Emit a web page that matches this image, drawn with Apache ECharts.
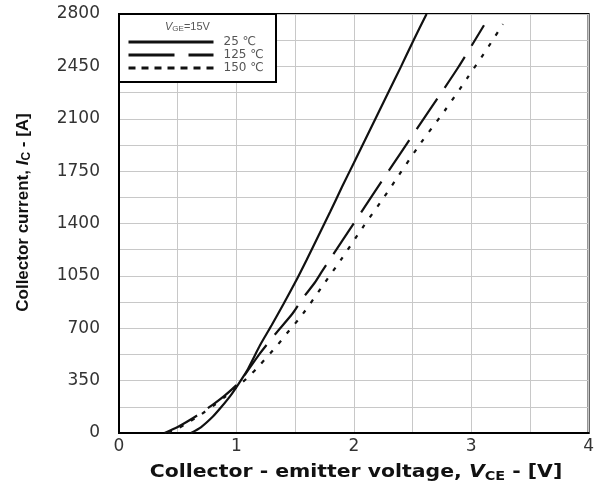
<!DOCTYPE html>
<html>
<head>
<meta charset="utf-8">
<script src="https://cdn.jsdelivr.net/npm/echarts@6/dist/echarts.min.js"></script>
<style>
html,body{margin:0;padding:0;background:#fff;}
#c{width:597px;height:488px;}
</style>
</head>
<body>
<div id="c"></div>
<script>
// Output characteristics (VGE = 15 V)
const xTicks = [0, 1, 2, 3, 4];
const yTicks = [0, 350, 700, 1050, 1400, 1750, 2100, 2450, 2800];
const seriesNames = ['25 \u2103', '125 \u2103', '150 \u2103'];

const v25 = [0.613,0.7,0.8,0.873,0.95,1.02,1.06,1.1,1.155,1.2,1.3,1.4,1.5,1.6,1.7,1.8,1.9,2.0,2.1,2.2,2.3,2.4,2.5,2.62];
const i25 = [0,40,110,175,250,330,378,430,515,585,720,860,1005,1160,1320,1480,1645,1805,1965,2125,2285,2445,2610,2800];

const v125 = [0.388,0.5,0.6,0.7,0.8,0.9,1.0,1.06,1.19,1.33,1.48,1.567,1.667,1.736,1.905,2.148,2.393,2.645,2.89,3.109];
const i125 = [0,40,85,135,190,250,320,376,521,660,800,902,1004,1089,1289,1576,1864,2157,2444,2725];

const v150 = [0.42,0.5,0.6,0.7,0.8,0.9,1.0,1.104,1.2,1.343,1.45,1.559,1.759,1.883,2.072,2.258,2.384,2.57,2.772,2.966,3.15,3.27];
const i150 = [0,30,75,125,180,240,305,376,455,581,685,788,1011,1149,1369,1576,1723,1937,2151,2371,2585,2732];

const pairs = (xs, ys) => xs.map((x, k) => [x, ys[k]]);

const ARIAL = '"Liberation Sans", Arial, sans-serif';
const WIDE = '"DejaVu Sans", Verdana, sans-serif';
const chart = echarts.init(document.getElementById('c'), null, {renderer: 'canvas'});

const lineBase = {type: 'line', showSymbol: false, symbol: 'none', smooth: 0.25, color: '#111', z: 5};

const xRich = {
  b: {fontFamily: WIDE, fontSize: 17, fontWeight: 'bold', fill: '#111', lineHeight: 20, verticalAlign: 'middle'},
  iv: {fontFamily: WIDE, fontSize: 17, fontWeight: 'bold', fontStyle: 'italic', fill: '#111', lineHeight: 20, verticalAlign: 'middle'},
  s: {fontFamily: WIDE, fontSize: 12, fontWeight: 'bold', fill: '#111', lineHeight: 14, verticalAlign: 'bottom'}
};
const yRich = {
  b: {fontFamily: ARIAL, fontSize: 17, fontWeight: 'bold', color: '#111', lineHeight: 20, verticalAlign: 'middle'},
  iv: {fontFamily: ARIAL, fontSize: 17, fontWeight: 'bold', fontStyle: 'italic', color: '#111', lineHeight: 20, verticalAlign: 'middle'},
  s: {fontFamily: ARIAL, fontSize: 12, fontWeight: 'bold', color: '#111', lineHeight: 14, verticalAlign: 'bottom'}
};

chart.setOption({
  animation: false,
  backgroundColor: '#fff',
  grid: {left: 119, right: 4, top: 14, bottom: 55, show: true, borderColor: '#000', borderWidth: 2, containLabel: false},
  xAxis: {
    type: 'value', min: xTicks[0], max: xTicks[xTicks.length - 1], interval: 1,
    axisLine: {show: true, lineStyle: {color: '#000', width: 2}},
    axisTick: {show: false},
    axisLabel: {fontFamily: WIDE, fontSize: 17, color: '#333', margin: 5, formatter: v => String(v)},
    splitLine: {show: true, lineStyle: {color: '#c8c8c8', width: 1}},
    minorTick: {show: false, splitNumber: 2},
    minorSplitLine: {show: true, lineStyle: {color: '#c8c8c8', width: 1}}
  },
  yAxis: {
    type: 'value', min: yTicks[0], max: yTicks[yTicks.length - 1], interval: 350,
    axisLine: {show: true, lineStyle: {color: '#000', width: 2}},
    axisTick: {show: false},
    axisLabel: {fontFamily: WIDE, fontSize: 17, color: '#333', margin: 19, formatter: v => String(v)},
    splitLine: {show: true, lineStyle: {color: '#c8c8c8', width: 1}},
    minorTick: {show: false, splitNumber: 2},
    minorSplitLine: {show: true, lineStyle: {color: '#c8c8c8', width: 1}},
    name: '{b|Collector current, }{iv|I}{s|C}{b| - [A]}',
    nameLocation: 'middle', nameGap: 86,
    nameTextStyle: {rich: yRich, padding: [0, 0, 0, 22]}
  },
  legend: {
    show: true, orient: 'vertical', left: 127, top: 35.5, z: 10, padding: 0,
    itemWidth: 85, itemHeight: 13, itemGap: 0,
    itemStyle: {opacity: 0, borderWidth: 0},
    lineStyle: {width: 3},
    textStyle: {fontFamily: WIDE, fontSize: 12, color: '#555', lineHeight: 13, padding: [0, 0, 0, 5]},
    data: [
      {name: seriesNames[0]},
      {name: seriesNames[1], lineStyle: {width: 3, type: [46, 14]}},
      {name: seriesNames[2], lineStyle: {width: 3, type: [7, 6]}}
    ]
  },
  graphic: [
    {type: 'rect', shape: {x: 119, y: 14, width: 157, height: 68}, style: {fill: '#fff', stroke: '#000', lineWidth: 2}, z: 3},
    {type: 'text', left: 165, top: 21, z: 11,
      style: {rich: {
        v: {fontFamily: ARIAL, fontSize: 11, fontStyle: 'italic', fill: '#555', lineHeight: 13, verticalAlign: 'middle'},
        s: {fontFamily: ARIAL, fontSize: 8, fill: '#555', lineHeight: 9, verticalAlign: 'bottom'},
        t: {fontFamily: ARIAL, fontSize: 11, fill: '#555', lineHeight: 13, verticalAlign: 'middle'}
      }, text: '{v|V}{s|GE}{t|=15V}'}},
    {type: 'text', x: 356, y: 473, scaleX: 1.2, z: 11,
      style: {rich: xRich, text: '{b|Collector - emitter voltage, }{iv|V}{s|CE}{b| - [V]}', align: 'center', verticalAlign: 'middle'}}
  ],
  series: [
    Object.assign({}, lineBase, {name: seriesNames[0], data: pairs(v25, i25), lineStyle: {color: '#111', width: 2.2, type: 'solid'}}),
    Object.assign({}, lineBase, {name: seriesNames[1], data: pairs(v125, i125), lineStyle: {color: '#111', width: 2.2, type: [37, 13]}}),
    Object.assign({}, lineBase, {name: seriesNames[2], data: pairs(v150, i150), lineStyle: {color: '#111', width: 2.2, type: [4, 9]}})
  ]
});
</script>
</body>
</html>
